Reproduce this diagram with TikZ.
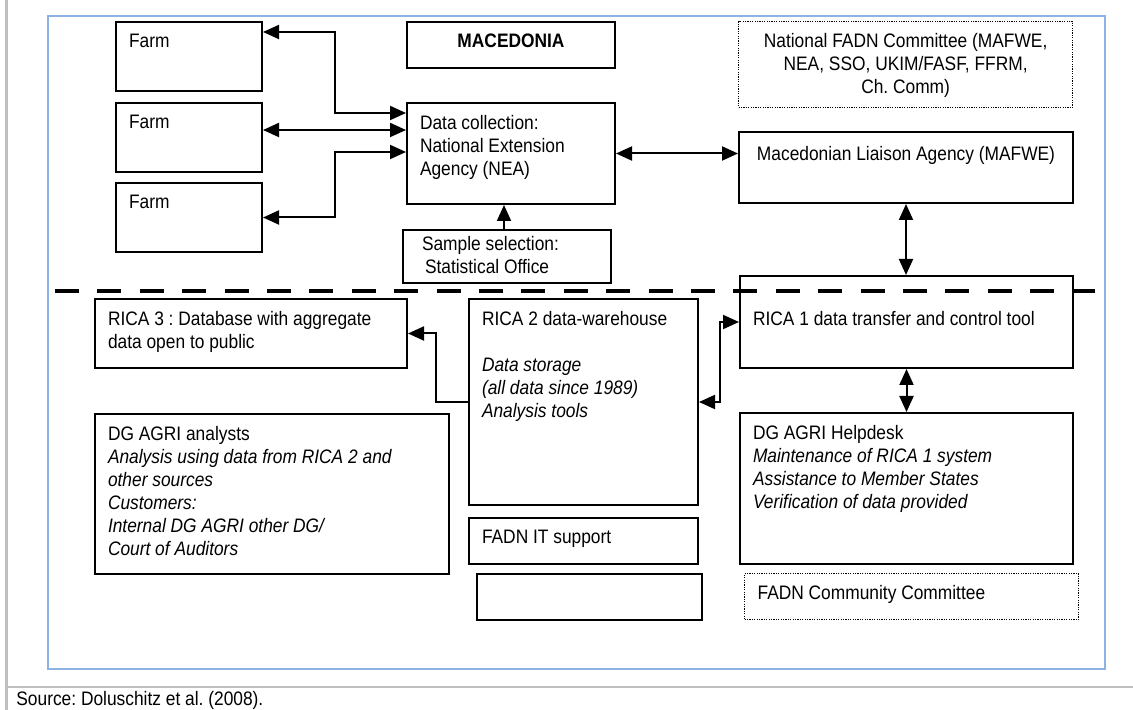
\documentclass[tikz,border=0pt]{standalone}
\usepackage{fontspec}
\setmainfont{Liberation Sans}[FakeStretch=0.89]
\usetikzlibrary{arrows.meta}
\definecolor{frameblue}{HTML}{8DB3E2}
\definecolor{rulegray}{HTML}{BFBFBF}
\newcommand{\boxtext}[3]{\parbox[t][#2][t]{#1}{\raggedright #3}}

\tikzset{
  box/.style={draw, line width=1pt, anchor=north west, inner xsep=6.5pt, inner ysep=6pt},
  dotbox/.style={box, line width=0.6pt, dash pattern=on 0.6pt off 0.6pt},
  link/.style={line width=1pt},
  >={Triangle[length=8pt,width=7pt]}
}

\begin{document}
\begin{tikzpicture}[x=0.5pt, y=-0.5pt, font=\fontsize{9.75pt}{11.5pt}\selectfont\frenchspacing]
  \useasboundingbox (0,0) rectangle (1133,710);
  % page rules and frame
  \draw[rulegray, line width=1.5pt] (6.5,0) -- (6.5,710);
  \draw[rulegray, line width=0.7pt] (8,687) -- (1133,687);
  \draw[frameblue, line width=0.8pt] (48,16) rectangle (1105,669);
  \node[anchor=base west, inner sep=0pt] (source) at (16,705) {Source: Doluschitz et al. (2008).};

  % national level
  \node[box] (farmA) at (115,21) {\boxtext{60pt}{22.5pt}{Farm}};
  \node[box] (farmB) at (115,102) {\boxtext{60pt}{22.5pt}{Farm}};
  \node[box] (farmC) at (115,182) {\boxtext{60pt}{22.5pt}{Farm}};
  \node[box] (macedonia) at (406,21) {\boxtext{91pt}{11pt}{\centering\bfseries MACEDONIA}};
  \node[box] (collect) at (406,102) {\boxtext{91pt}{38.5pt}{Data collection:\\ National Extension\\ Agency (NEA)}};
  \node[box, inner ysep=3pt] (sample) at (402,229) {\boxtext{91pt}{20.5pt}{\hspace*{3pt}Sample selection:\\ \hspace*{4.5pt}Statistical Office}};
  \node[dotbox] (natcommittee) at (738,21) {\boxtext{154pt}{31pt}{\centering National FADN Committee (MAFWE,\\ NEA, SSO, UKIM/FASF, FFRM,\\ Ch. Comm)}};
  \node[box] (liaison) at (738,131) {\boxtext{154pt}{23.5pt}{\vspace*{1pt}\centering Macedonian Liaison Agency (MAFWE)}};

  % EU level
  \draw[line width=2.3pt, dash pattern=on 12pt off 9.2pt] (55,291) -- (1095,291);
  \node[box] (ricaC) at (94,298) {\boxtext{143pt}{22.5pt}{RICA 3 : Database with aggregate\\ data open to public}};
  \node[box] (analysts) at (94,413) {\boxtext{164pt}{68pt}{DG AGRI analysts\\ {\itshape Analysis using data from RICA 2 and\\ other sources\\ Customers:\\ Internal DG AGRI other DG/\\ Court of Auditors}}};
  \node[box] (ricaB) at (468,298) {\boxtext{101.5pt}{91pt}{RICA 2 data-warehouse\\[11.5pt] {\itshape Data storage\\ (all data since 1989)\\ Analysis tools}}};
  \node[box] (itsupport) at (468,517) {\boxtext{101.5pt}{11pt}{FADN IT support}};
  \node[box, minimum width=112.5pt, minimum height=23pt] (blank) at (476,573) {};
  \node[box] (ricaA) at (739,275) {\boxtext{153.5pt}{34pt}{\vspace*{11.5pt}RICA 1 data transfer and control tool}};
  \node[box] (helpdesk) at (739,412) {\boxtext{153.5pt}{63.5pt}{DG AGRI Helpdesk\\ {\itshape Maintenance of RICA 1 system\\ Assistance to Member States\\ Verification of data provided}}};
  \node[dotbox] (eucommittee) at (744,573) {\boxtext{154pt}{11pt}{FADN Community Committee}};

  % connectors
  \draw[link, <->] ([yshift=-5.5pt]farmA.north east) -- ++(72,0) |- ([yshift=-5.5pt]collect.north west);
  \draw[link, <->] ([yshift=-14pt]farmB.north east) -- ([yshift=-14pt]collect.north west);
  \draw[link, <->] (farmC.east) -- ++(72,0) |- ([yshift=-25pt]collect.north west);
  \draw[link, ->] ([xshift=-1.5pt]sample.north) -- ([xshift=-1.5pt]sample.north |- collect.south);
  \draw[link, <->] (collect.east) -- (collect.east -| liaison.west);
  \draw[link, <->] (liaison.south) -- (liaison.south |- ricaA.north);
  \draw[link, <->] (ricaA.south) -- (ricaA.south |- helpdesk.north);
  \draw[link, <->] (ricaB.east) -- ++(21,0) |- (ricaA.west);
  \draw[link, ->] (ricaB.west) -- ++(-32,0) |- (ricaC.east);
\end{tikzpicture}
\end{document}
